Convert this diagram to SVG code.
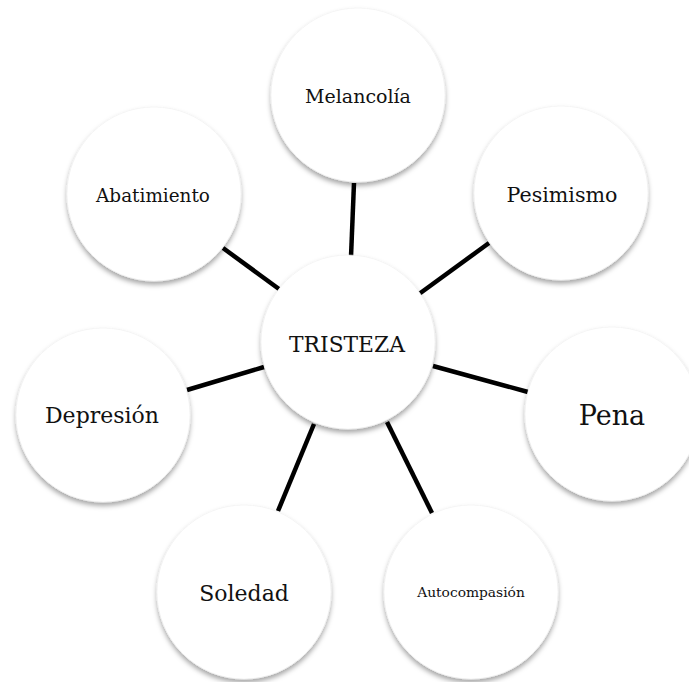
<svg xmlns="http://www.w3.org/2000/svg" width="689" height="682" viewBox="0 0 689 682">
  <defs>
    <filter id="shadow" x="-20%" y="-20%" width="140%" height="150%">
      <feDropShadow dx="0" dy="3.5" stdDeviation="2.5" flood-color="#000" flood-opacity="0.35"/>
    </filter>
  </defs>
  <style>
    .bubble { fill: #fff; stroke: #f0f0f0; stroke-width: 0.6; filter: url(#shadow); }
    .link { stroke: #000; stroke-width: 4.5; stroke-linecap: butt; fill: none; }
    .label { font-family: "DejaVu Serif", "Liberation Serif", serif; fill: #111; text-anchor: middle; }
  </style>
  <rect width="689" height="682" fill="#fff"/>

  <!-- spokes from the centre to each surrounding bubble -->
  <g id="connectors">
    <line class="link" x1="354" y1="183" x2="351" y2="257"/>
    <line class="link" x1="223" y1="248" x2="279" y2="289"/>
    <line class="link" x1="489" y1="243" x2="419" y2="294"/>
    <line class="link" x1="187" y1="390" x2="264" y2="367"/>
    <line class="link" x1="433" y1="366" x2="528" y2="392"/>
    <line class="link" x1="314" y1="424" x2="278" y2="511"/>
    <line class="link" x1="387" y1="422" x2="432" y2="513"/>
  </g>

  <g id="melancolia">
    <circle class="bubble" cx="358" cy="95" r="87"/>
    <text class="label" x="358" y="103" font-size="19">Melancolía</text>
  </g>
  <g id="pesimismo">
    <circle class="bubble" cx="561" cy="193" r="87"/>
    <text class="label" x="562" y="202" font-size="20.6">Pesimismo</text>
  </g>
  <g id="abatimiento">
    <circle class="bubble" cx="154" cy="194" r="87"/>
    <text class="label" x="153" y="202" font-size="18.4">Abatimiento</text>
  </g>
  <g id="pena">
    <circle class="bubble" cx="612" cy="414" r="87"/>
    <text class="label" x="612" y="425" font-size="27">Pena</text>
  </g>
  <g id="depresion">
    <circle class="bubble" cx="103" cy="415" r="87"/>
    <text class="label" x="102" y="423" font-size="22">Depresión</text>
  </g>
  <g id="soledad">
    <circle class="bubble" cx="244" cy="592" r="87"/>
    <text class="label" x="244" y="601" font-size="22">Soledad</text>
  </g>
  <g id="autocompasion">
    <circle class="bubble" cx="471" cy="592" r="87"/>
    <text class="label" x="471" y="597" font-size="13.8">Autocompasión</text>
  </g>
  <g id="tristeza">
    <circle class="bubble" cx="348" cy="342" r="87"/>
    <text class="label" x="347" y="352" font-size="21.8">TRISTEZA</text>
  </g>
</svg>
